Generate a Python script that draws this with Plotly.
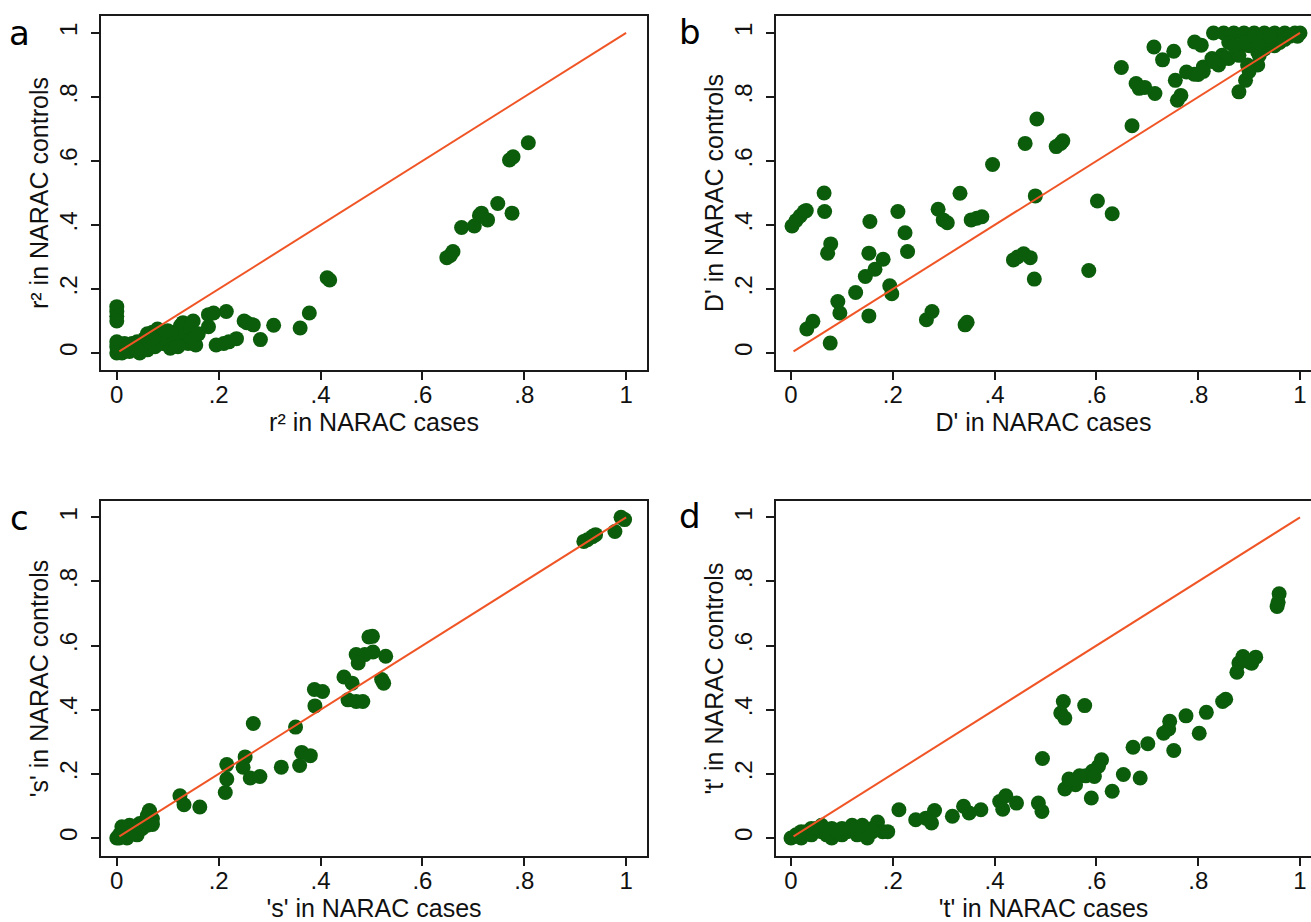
import plotly.graph_objects as go

# ---------------- data ----------------
tick_vals = [0, 0.2, 0.4, 0.6, 0.8, 1]
tick_text = ["0", ".2", ".4", ".6", ".8", "1"]

# panel a: r^2
a_cases = [0, 0, 0, 0,
           0, 0, 0, 0.005, 0.01, 0.015, 0.02, 0.025, 0.03, 0.035, 0.04, 0.045, 0.05, 0.055,
           0.06, 0.06, 0.065, 0.07, 0.075, 0.08, 0.085, 0.09, 0.095, 0.1, 0.105, 0.11, 0.115,
           0.12, 0.125, 0.13, 0.13, 0.135, 0.14, 0.145, 0.15, 0.15, 0.155, 0.16, 0.04, 0.07,
           0.1, 0.12,
           0.18, 0.19, 0.18, 0.215, 0.195, 0.21, 0.22, 0.235, 0.25, 0.255, 0.268, 0.282, 0.308,
           0.36, 0.378, 0.413, 0.418, 0.648, 0.655, 0.66, 0.677, 0.702, 0.712, 0.716, 0.728,
           0.748, 0.776, 0.771, 0.778, 0.808]
a_controls = [0.145, 0.13, 0.115, 0.10,
              0.0, 0.02, 0.035, 0.01, 0.0, 0.03, 0.015, 0.005, 0.03, 0.02, 0.035, 0.0, 0.025, 0.045,
              0.01, 0.06, 0.035, 0.065, 0.02, 0.075, 0.05, 0.03, 0.06, 0.045, 0.015, 0.06, 0.03,
              0.05, 0.085, 0.04, 0.095, 0.06, 0.03, 0.075, 0.1, 0.045, 0.025, 0.06, 0.01, 0.045,
              0.07, 0.02,
              0.12, 0.125, 0.082, 0.13, 0.025, 0.03, 0.035, 0.045, 0.1, 0.095, 0.088, 0.042, 0.087,
              0.078, 0.125, 0.235, 0.228, 0.298, 0.305, 0.317, 0.392, 0.397, 0.43, 0.437, 0.416,
              0.467, 0.437, 0.603, 0.613, 0.657]

# panel b: D'
b_cases = [0.002, 0.01, 0.018, 0.026, 0.03, 0.065, 0.066, 0.078, 0.072, 0.077, 0.031, 0.043,
           0.092, 0.096, 0.127, 0.146, 0.153, 0.155, 0.153, 0.165, 0.181, 0.194, 0.198, 0.21,
           0.224, 0.229, 0.266, 0.277, 0.289, 0.299, 0.307, 0.332, 0.342, 0.346, 0.354, 0.365,
           0.375, 0.396, 0.437, 0.445, 0.457, 0.47, 0.46, 0.478, 0.48, 0.483, 0.521, 0.53, 0.534,
           0.585, 0.602, 0.631, 0.649, 0.67, 0.678, 0.684, 0.695, 0.715, 0.713, 0.73, 0.752,
           0.755, 0.759, 0.766, 0.777, 0.792, 0.793, 0.806, 0.81, 0.827, 0.847, 0.86, 0.88, 0.893,
           0.897, 0.917, 0.917,
           0.83, 0.85, 0.87, 0.89, 0.91, 0.93, 0.95, 0.97, 0.99, 1.0,
           0.93, 0.95, 0.97, 0.98, 0.96, 0.9, 0.92, 0.88, 0.86, 0.87, 0.89, 0.91, 0.94,
           0.85, 0.84, 0.83, 0.81, 0.8, 0.99, 0.995, 0.9, 0.92, 0.94]
b_controls = [0.397, 0.414, 0.428, 0.442, 0.445, 0.5, 0.442, 0.341, 0.312, 0.031, 0.075, 0.099,
              0.161, 0.125, 0.189, 0.239, 0.116, 0.411, 0.312, 0.262, 0.293, 0.21, 0.185, 0.442,
              0.376, 0.317, 0.104, 0.13, 0.449, 0.416, 0.407, 0.499, 0.088, 0.096, 0.416, 0.421,
              0.426, 0.589, 0.291, 0.3, 0.31, 0.298, 0.655, 0.231, 0.491, 0.731, 0.645, 0.655, 0.663,
              0.258, 0.475, 0.435, 0.892, 0.71, 0.842, 0.827, 0.83, 0.811, 0.956, 0.916, 0.943,
              0.852, 0.79, 0.805, 0.878, 0.871, 0.972, 0.962, 0.894, 0.92, 0.93, 0.92, 0.816, 0.852,
              0.9, 0.9, 0.94,
              1.0, 1.0, 1.0, 1.0, 1.0, 1.0, 1.0, 1.0, 1.0, 1.0,
              0.95, 0.96, 0.98, 0.99, 0.97, 0.96, 0.93, 0.93, 0.97, 0.96, 0.97, 0.99, 0.98,
              0.92, 0.9, 0.91, 0.88, 0.87, 0.995, 0.99, 0.88, 0.97, 0.99]

# panel c: 's'
c_cases = [0.917, 0.924, 0.934, 0.94, 0.978, 0.99, 0.997,
           0.502, 0.495, 0.528, 0.503, 0.487, 0.47, 0.474, 0.52, 0.524, 0.446, 0.462, 0.454,
           0.47, 0.483, 0.388, 0.404, 0.389, 0.351, 0.363, 0.38, 0.359, 0.323, 0.268, 0.252,
           0.248, 0.262, 0.281, 0.216, 0.216, 0.213, 0.124, 0.132, 0.163, 0.064, 0.07,
           0.0, 0.005, 0.01, 0.015, 0.02, 0.025, 0.03, 0.035, 0.04, 0.045, 0.05, 0.055, 0.06,
           0.06, 0.065, 0.07, 0.005, 0.01]
c_controls = [0.925, 0.93, 0.94, 0.946, 0.956, 1.0, 0.993,
              0.629, 0.627, 0.567, 0.58, 0.572, 0.572, 0.546, 0.494, 0.483, 0.502, 0.483, 0.431,
              0.426, 0.426, 0.463, 0.457, 0.412, 0.346, 0.267, 0.257, 0.226, 0.221, 0.357, 0.253,
              0.221, 0.187, 0.192, 0.229, 0.184, 0.142, 0.132, 0.104, 0.097, 0.086, 0.042,
              0.0, 0.01, 0.02, 0.03, 0.0, 0.04, 0.02, 0.03, 0.01, 0.045, 0.03, 0.05, 0.04,
              0.07, 0.08, 0.06, 0.0, 0.035]

# panel d: 't'
d_cases = [0.959, 0.955, 0.957, 0.913, 0.901, 0.888, 0.88, 0.876, 0.905, 0.854, 0.848, 0.816,
           0.802, 0.776, 0.744, 0.742, 0.732, 0.752, 0.701, 0.672, 0.686, 0.653, 0.631, 0.61,
           0.604, 0.592, 0.579, 0.567, 0.559, 0.538, 0.546, 0.59, 0.596, 0.577, 0.535, 0.53,
           0.538, 0.494, 0.486, 0.493, 0.443, 0.422, 0.41, 0.416, 0.373, 0.35, 0.339, 0.317,
           0.282, 0.276, 0.265, 0.245, 0.212,
           0.0, 0.01, 0.02, 0.03, 0.04, 0.05, 0.06, 0.07, 0.08, 0.09, 0.1, 0.11, 0.12, 0.13,
           0.14, 0.15, 0.16, 0.17, 0.18, 0.19, 0.06, 0.04, 0.02, 0.08, 0.1, 0.12, 0.14, 0.16]
d_controls = [0.762, 0.722, 0.735, 0.564, 0.548, 0.566, 0.546, 0.517, 0.545, 0.433, 0.426, 0.392,
              0.327, 0.381, 0.364, 0.34, 0.327, 0.273, 0.294, 0.283, 0.187, 0.198, 0.146, 0.244,
              0.224, 0.208, 0.194, 0.194, 0.166, 0.153, 0.184, 0.125, 0.192, 0.413, 0.426, 0.39,
              0.374, 0.248, 0.109, 0.083, 0.109, 0.132, 0.114, 0.09, 0.088, 0.078, 0.099, 0.068,
              0.086, 0.047, 0.062, 0.057, 0.088,
              0.0, 0.01, 0.0, 0.02, 0.01, 0.03, 0.02, 0.01, 0.0, 0.02, 0.01, 0.02, 0.03, 0.01,
              0.02, 0.0, 0.03, 0.05, 0.02, 0.02, 0.04, 0.03, 0.02, 0.03, 0.03, 0.04, 0.04, 0.02]

line_x = [0.005, 1.0]
line_y = [0.005, 1.0]

panels = [
    ("a", a_cases, a_controls, "r² in NARAC cases", "r² in NARAC controls"),
    ("b", b_cases, b_controls, "D' in NARAC cases", "D' in NARAC controls"),
    ("c", c_cases, c_controls, "'s' in NARAC cases", "'s' in NARAC controls"),
    ("d", d_cases, d_controls, "'t' in NARAC cases", "'t' in NARAC controls"),
]

# ---------------- layout geometry ----------------
W, H = 1311, 922
x_domains = [[101 / W, 647 / W], [776 / W, 1.0], [101 / W, 647 / W], [776 / W, 1.0]]
y_domains = [[1 - 370 / H, 1 - 16 / H], [1 - 370 / H, 1 - 16 / H],
             [1 - 856 / H, 1 - 501 / H], [1 - 856 / H, 1 - 501 / H]]
x_ranges = [[-0.031, 1.041], [-0.0295, 1.0216], [-0.031, 1.041], [-0.0295, 1.0216]]
y_ranges = [[-0.053, 1.053], [-0.053, 1.053], [-0.056, 1.051], [-0.056, 1.051]]
label_pos = [(19, 33), (690, 32), (19, 518), (690, 516)]

GREEN = "#0b5d0b"
ORANGE = "#f05526"
FONT = "Liberation Sans"
FS_TITLE = 25
FS_TICK = 24

fig = go.Figure()
layout = dict(
    width=W, height=H, margin=dict(l=0, r=0, t=0, b=0),
    paper_bgcolor="white", plot_bgcolor="white", showlegend=False,
    font=dict(family=FONT, size=FS_TICK, color="#111"),
)
annotations = []
for i, (lab, xs, ys, xt, yt) in enumerate(panels):
    n = "" if i == 0 else str(i + 1)
    xa, ya = "x" + n, "y" + n
    fig.add_trace(go.Scatter(x=xs, y=ys, mode="markers", xaxis=xa, yaxis=ya,
                             marker=dict(size=15, color=GREEN, line=dict(width=0)),
                             hoverinfo="skip"))
    fig.add_trace(go.Scatter(x=line_x, y=line_y, mode="lines", xaxis=xa, yaxis=ya,
                             line=dict(color=ORANGE, width=2), hoverinfo="skip"))
    common = dict(showline=True, mirror=True, linecolor="#1a1a1a", linewidth=2,
                  showgrid=False, zeroline=False, ticks="outside", ticklen=8, tickwidth=1.5,
                  tickcolor="#1a1a1a", tickvals=tick_vals, ticktext=tick_text,
                  automargin=False, ticklabeloverflow="allow",
                  tickfont=dict(family=FONT, size=FS_TICK, color="#111"))
    layout["xaxis" + n] = dict(common, domain=x_domains[i], range=x_ranges[i],
                               anchor=ya, ticklabelstandoff=-6,
                               title=dict(text=xt, standoff=4,
                                          font=dict(family=FONT, size=FS_TITLE, color="#111")))
    layout["yaxis" + n] = dict(common, domain=y_domains[i], range=y_ranges[i],
                               anchor=xa, tickangle=-90, ticklabelstandoff=4,
                               title=dict(text=yt, standoff=0,
                                          font=dict(family=FONT, size=FS_TITLE, color="#111")))
    annotations.append(dict(text=lab, x=label_pos[i][0] / W, y=1 - label_pos[i][1] / H,
                            xref="paper", yref="paper", showarrow=False,
                            xanchor="center", yanchor="middle",
                            font=dict(family="DejaVu Sans", size=34, color="#000")))
layout["annotations"] = annotations
fig.update_layout(**layout)
fig.write_html("out.html",
               config={"displayModeBar": False},
               post_script="document.body.style.margin='0px';"
                           "document.body.style.overflow='hidden';")
